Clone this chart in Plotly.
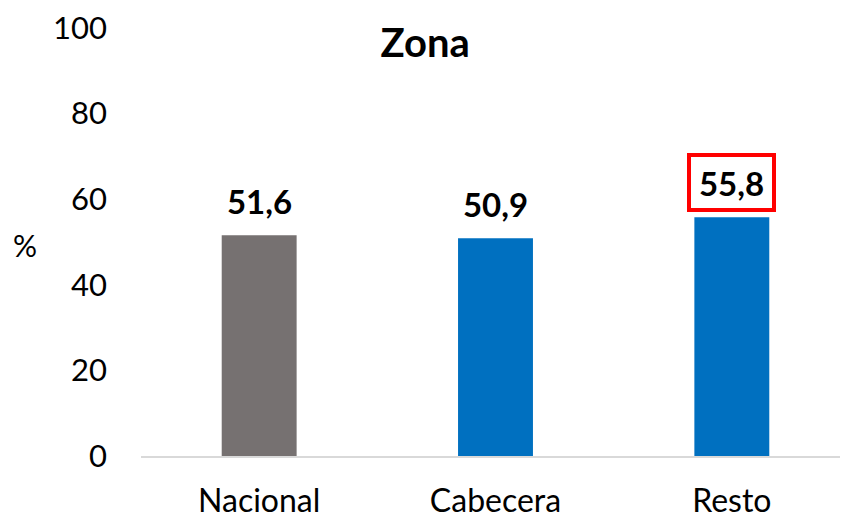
import plotly.graph_objects as go

categories = ["Nacional", "Cabecera", "Resto"]
values = [51.6, 50.9, 55.8]
labels = ["51,6", "50,9", "55,8"]
colors = ["#767171", "#0070C0", "#0070C0"]
highlight = [False, False, True]
y_ticks = [0, 20, 40, 60, 80, 100]

FONT = "Lato, 'Open Sans', sans-serif"

fig = go.Figure()
fig.add_trace(go.Bar(x=categories, y=values, marker=dict(color=colors, line=dict(width=0)),
                     width=0.317, hoverinfo="skip"))

for c, v, t, h in zip(categories, values, labels, highlight):
    fig.add_annotation(x=c, y=v, text="<b>" + t + "</b>", showarrow=False,
                       yanchor="bottom", yshift=5,
                       font=dict(family=FONT, size=33, color="black"),
                       width=81, height=51, borderpad=0, borderwidth=4,
                       bordercolor="#FF0000" if h else "rgba(0,0,0,0)")

fig.add_annotation(xref="paper", yref="paper", x=-0.1636, y=0.493, text="%",
                   showarrow=False, font=dict(family=FONT, size=30, color="black"),
                   xanchor="center", yanchor="middle")

fig.update_layout(
    width=848, height=518,
    margin=dict(l=133, r=6, t=20, b=70, autoexpand=False),
    paper_bgcolor="white", plot_bgcolor="white",
    showlegend=False,
    title=dict(text="<b>Zona</b>", x=0.492, xanchor="center", y=0.932, yanchor="middle",
               font=dict(family=FONT, size=40, color="black")),
    xaxis=dict(range=[-0.5, 2.5], showline=True, linecolor="#D9D9D9", linewidth=1.5,
               showgrid=False, ticks="", ticklabelstandoff=16, automargin=False,
               tickfont=dict(family=FONT, size=32, color="black")),
    yaxis=dict(range=[0, 100], tickvals=y_ticks, showgrid=False, zeroline=False,
               showline=False, ticks="", ticklabelstandoff=33, automargin=False,
               ticklabeloverflow="allow",
               tickfont=dict(family=FONT, size=31, color="black")),
    font=dict(family=FONT),
)

fig.write_html("out.html")
